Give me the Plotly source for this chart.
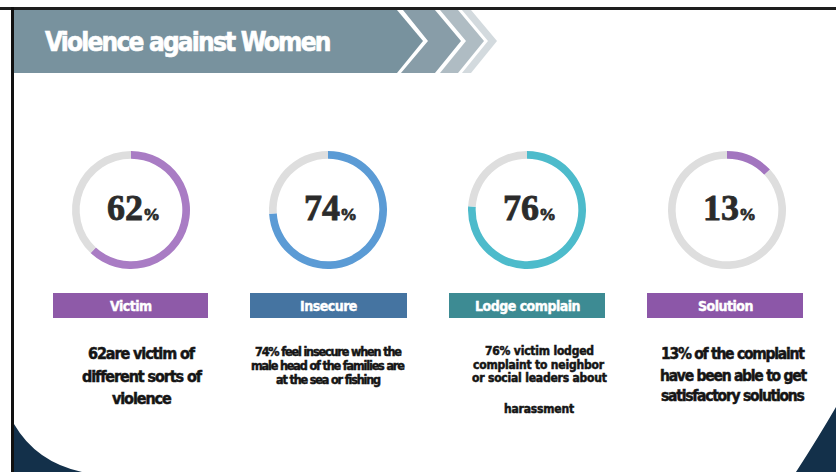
import plotly.graph_objects as go

# ---------------- data ----------------
categories = ["Victim", "Insecure", "Lodge complain", "Solution"]
percentages = [62, 74, 76, 13]
descriptions = [
    ["62are victim of", "different sorts of", "violence"],
    ["74% feel insecure when the", "male head of the families are", "at the sea or fishing"],
    ["76% victim lodged", "complaint to neighbor", "or social leaders about", "harassment"],
    ["13% of the complaint", "have been able to get", "satisfactory solutions"],
]
title_text = "Violence against Women"

# ---------------- styling / layout ----------------
W, H = 836, 472
ring_colors = ["#A97CC4", "#5B9BD5", "#4DBBCB", "#A275BF"]
bar_colors = ["#8E5AA8", "#4574A1", "#3D8B93", "#8C57A8"]
track_gray = "#DEDEDE"
centers_x = [131, 328, 527, 727]
center_y = 210
radius = 59
bar_x = [(53, 208), (250, 407), (449, 605), (647, 803)]
bar_y = (293, 318)
desc_x = [142, 328, 539, 733]
desc_sizes = [16, 12.5, 12, 15.5]
desc_spacing = [-1.1, -1.15, -0.2, -1.25]
desc_y = [[353, 376, 398], [351, 365, 379], [351, 365, 378, 409], [354, 376, 396]]

COND = "'Liberation Sans Narrow', 'DejaVu Sans Condensed', sans-serif"
SERIF = "Liberation Serif, DejaVu Serif, serif"


def px(x):
    return x / W


def py(y):
    return 1 - y / H


def path(points):
    return "M " + " L ".join(f"{px(x):.5f},{py(y):.5f}" for x, y in points) + " Z"


def tight(text, spacing, color, stroke=0.5):
    return (f"<b><span style='letter-spacing:{spacing}px;stroke:{color};"
            f"stroke-width:{stroke}px'>{text}</span></b>")


fig = go.Figure()

for i, (cat, pct) in enumerate(zip(categories, percentages)):
    cx = centers_x[i]
    fig.add_trace(go.Pie(
        values=[pct, 100 - pct],
        labels=[cat, "rest"],
        sort=False,
        direction="clockwise",
        rotation=0,
        hole=0.87,
        marker=dict(colors=[ring_colors[i], track_gray], line=dict(width=0)),
        textinfo="none",
        hoverinfo="skip",
        showlegend=False,
        domain=dict(x=[px(cx - radius), px(cx + radius)],
                    y=[py(center_y + radius), py(center_y - radius)]),
    ))

shapes = []
annotations = []

# frame lines
shapes.append(dict(type="rect", xref="paper", yref="paper",
                   x0=px(0), x1=px(W), y0=py(10), y1=py(7),
                   fillcolor="#1E1E1E", line=dict(width=0), layer="above"))
shapes.append(dict(type="rect", xref="paper", yref="paper",
                   x0=px(11), x1=px(14), y0=py(H), y1=py(7),
                   fillcolor="#111111", line=dict(width=0), layer="above"))

# banner + chevrons
shapes.append(dict(type="path", xref="paper", yref="paper",
                   path=path([(14, 10), (397, 10), (423, 41), (397, 73), (14, 73)]),
                   fillcolor="#78929E", line=dict(width=0)))
shapes.append(dict(type="path", xref="paper", yref="paper",
                   path=path([(462, 10), (471, 10), (497, 41), (471, 73), (462, 73), (488, 41)]),
                   fillcolor="#D3DADE", line=dict(width=0)))
shapes.append(dict(type="path", xref="paper", yref="paper",
                   path=path([(440, 10), (458, 10), (484, 41), (458, 73), (440, 73), (466, 41)]),
                   fillcolor="#AFBCC3", line=dict(width=0)))
shapes.append(dict(type="path", xref="paper", yref="paper",
                   path=path([(403, 10), (435, 10), (461, 41), (435, 73), (401, 73), (428, 41)]),
                   fillcolor="#889DA8", line=dict(width=0)))

# bottom decorative curves
shapes.append(dict(type="path", xref="paper", yref="paper",
                   path=f"M {px(14):.5f},{py(424):.5f} Q {px(36):.5f},{py(462):.5f} {px(82):.5f},{py(472):.5f} L {px(14):.5f},{py(472):.5f} Z",
                   fillcolor="#13304A", line=dict(width=0)))
shapes.append(dict(type="path", xref="paper", yref="paper",
                   path=f"M {px(836):.5f},{py(407):.5f} Q {px(818):.5f},{py(438):.5f} {px(796):.5f},{py(472):.5f} L {px(836):.5f},{py(472):.5f} Z",
                   fillcolor="#13304A", line=dict(width=0)))

annotations.append(dict(xref="paper", yref="paper", x=px(43), y=py(42),
                        xanchor="left", yanchor="middle", showarrow=False,
                        text=tight(title_text, -1.8, "#FFFFFF", 0.6),
                        font=dict(family=COND, size=26, color="#FFFFFF")))

for i, (cat, pct) in enumerate(zip(categories, percentages)):
    x0, x1 = bar_x[i]
    shapes.append(dict(type="rect", xref="paper", yref="paper",
                       x0=px(x0), x1=px(x1), y0=py(bar_y[1]), y1=py(bar_y[0]),
                       fillcolor=bar_colors[i], line=dict(width=0)))
    annotations.append(dict(xref="paper", yref="paper", x=px((x0 + x1) / 2),
                            y=py((bar_y[0] + bar_y[1]) / 2),
                            xanchor="center", yanchor="middle", showarrow=False,
                            text=tight(cat, -0.5, "#FFFFFF", 0.4),
                            font=dict(family=COND, size=14, color="#FFFFFF")))
    annotations.append(dict(xref="paper", yref="paper", x=px(centers_x[i] + 2),
                            y=py(center_y - 2),
                            xanchor="center", yanchor="middle", showarrow=False,
                            text=(f"<b><span style='stroke:#2B2B2B;stroke-width:0.8px'>{pct}"
                                  f"<span style='font-size:17px'>%</span></span></b>"),
                            font=dict(family=SERIF, size=36, color="#2B2B2B")))
    for line, yy in zip(descriptions[i], desc_y[i]):
        annotations.append(dict(xref="paper", yref="paper", x=px(desc_x[i]), y=py(yy),
                                xanchor="center", yanchor="middle", showarrow=False,
                                text=tight(line, desc_spacing[i], "#151515", 0.5),
                                font=dict(family=COND, size=desc_sizes[i], color="#151515")))

fig.update_layout(
    width=W, height=H,
    margin=dict(l=0, r=0, t=0, b=0),
    paper_bgcolor="#FFFFFF",
    plot_bgcolor="#FFFFFF",
    shapes=shapes,
    annotations=annotations,
    showlegend=False,
)

fig.write_html("out.html", config={"displayModeBar": False},
               post_script="document.body.style.margin='0px';")
